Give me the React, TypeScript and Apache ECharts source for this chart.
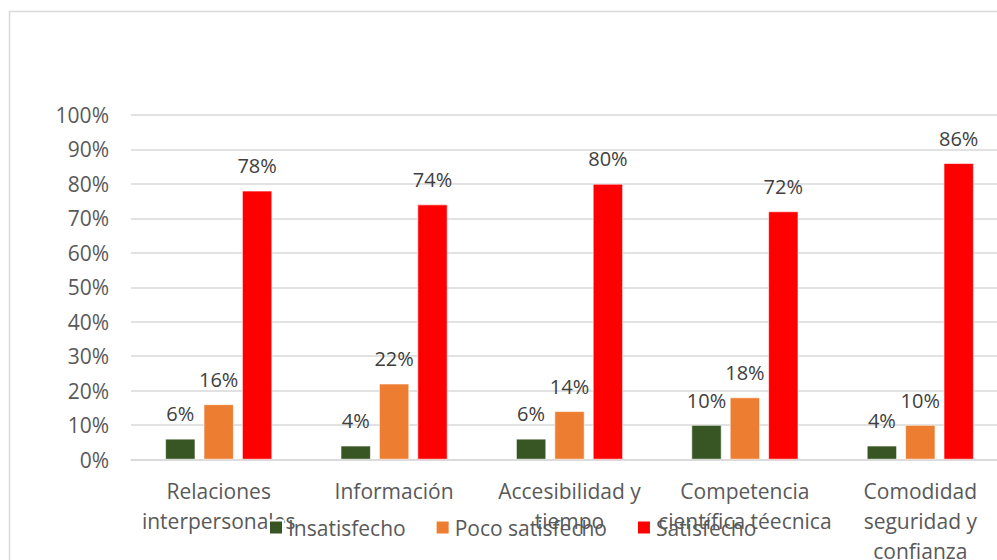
import React, { useEffect, useRef } from "react";
import * as echarts from "echarts";

const categories = [
  "Relaciones\ninterpersonales",
  "Información",
  "Accesibilidad y\ntiempo",
  "Competencia\ncientífica téecnica",
  "Comodidad\nseguridad y\nconfianza",
];
const seriesNames = ["Insatisfecho", "Poco satisfecho", "Satisfecho"];
const insatisfecho = [6, 4, 6, 10, 4];
const pocoSatisfecho = [16, 22, 14, 18, 10];
const satisfecho = [78, 74, 80, 72, 86];
const colors = ["#375623", "#ED7D31", "#FF0000"];

const FONT = "'Open Sans', 'Noto Sans', sans-serif";

export default function App() {
  const ref = useRef<HTMLDivElement>(null);
  useEffect(() => {
    document.body.style.margin = "0";
    if (!ref.current) return;
    const chart = echarts.init(ref.current, undefined, { renderer: "svg" });
    const values = [insatisfecho, pocoSatisfecho, satisfecho];
    chart.setOption({
      animation: false,
      backgroundColor: "#ffffff",
      textStyle: { fontFamily: FONT },
      graphic: [
        {
          type: "rect",
          shape: { x: 9.5, y: 11.5, width: 1000, height: 600 },
          style: { fill: "none", stroke: "#d9d9d9", lineWidth: 1.5 },
          z: -1,
        },
      ],
      legend: {
        left: 263,
        top: 512,
        itemWidth: 14,
        itemHeight: 14,
        itemGap: 29,
        icon: "rect",
        data: seriesNames,
        textStyle: { fontSize: 21, color: "#595959", fontFamily: FONT },
      },
      grid: {
        left: 131,
        top: 115,
        width: 877,
        height: 344.5,
        containLabel: false,
        outerBoundsMode: "none",
      },
      xAxis: {
        type: "category",
        data: categories,
        axisLine: { lineStyle: { color: "#d9d9d9", width: 1.5 } },
        axisTick: { show: false },
        axisLabel: {
          fontSize: 21,
          color: "#595959",
          lineHeight: 30,
          margin: 16,
          interval: 0,
          fontFamily: FONT,
        },
      },
      yAxis: {
        type: "value",
        min: 0,
        max: 100,
        interval: 10,
        axisLine: { show: false },
        axisTick: { show: false },
        splitLine: { lineStyle: { color: "#d9d9d9", width: 1.5 } },
        axisLabel: {
          formatter: "{value}%",
          fontSize: 21,
          color: "#595959",
          margin: 22,
          fontFamily: FONT,
        },
      },
      series: seriesNames.map((name, i) => ({
        name,
        type: "bar",
        data: values[i],
        barWidth: 30,
        barGap: "28%",
        itemStyle: { color: colors[i], borderColor: "#ffffff", borderWidth: 0.6 },
        label: {
          show: true,
          position: "top",
          distance: 15,
          formatter: "{c}%",
          fontSize: 20,
          color: "#404040",
          fontFamily: FONT,
        },
      })),
    });
    return () => chart.dispose();
  }, []);
  return <div ref={ref} style={{ width: 997, height: 560 }} />;
}
